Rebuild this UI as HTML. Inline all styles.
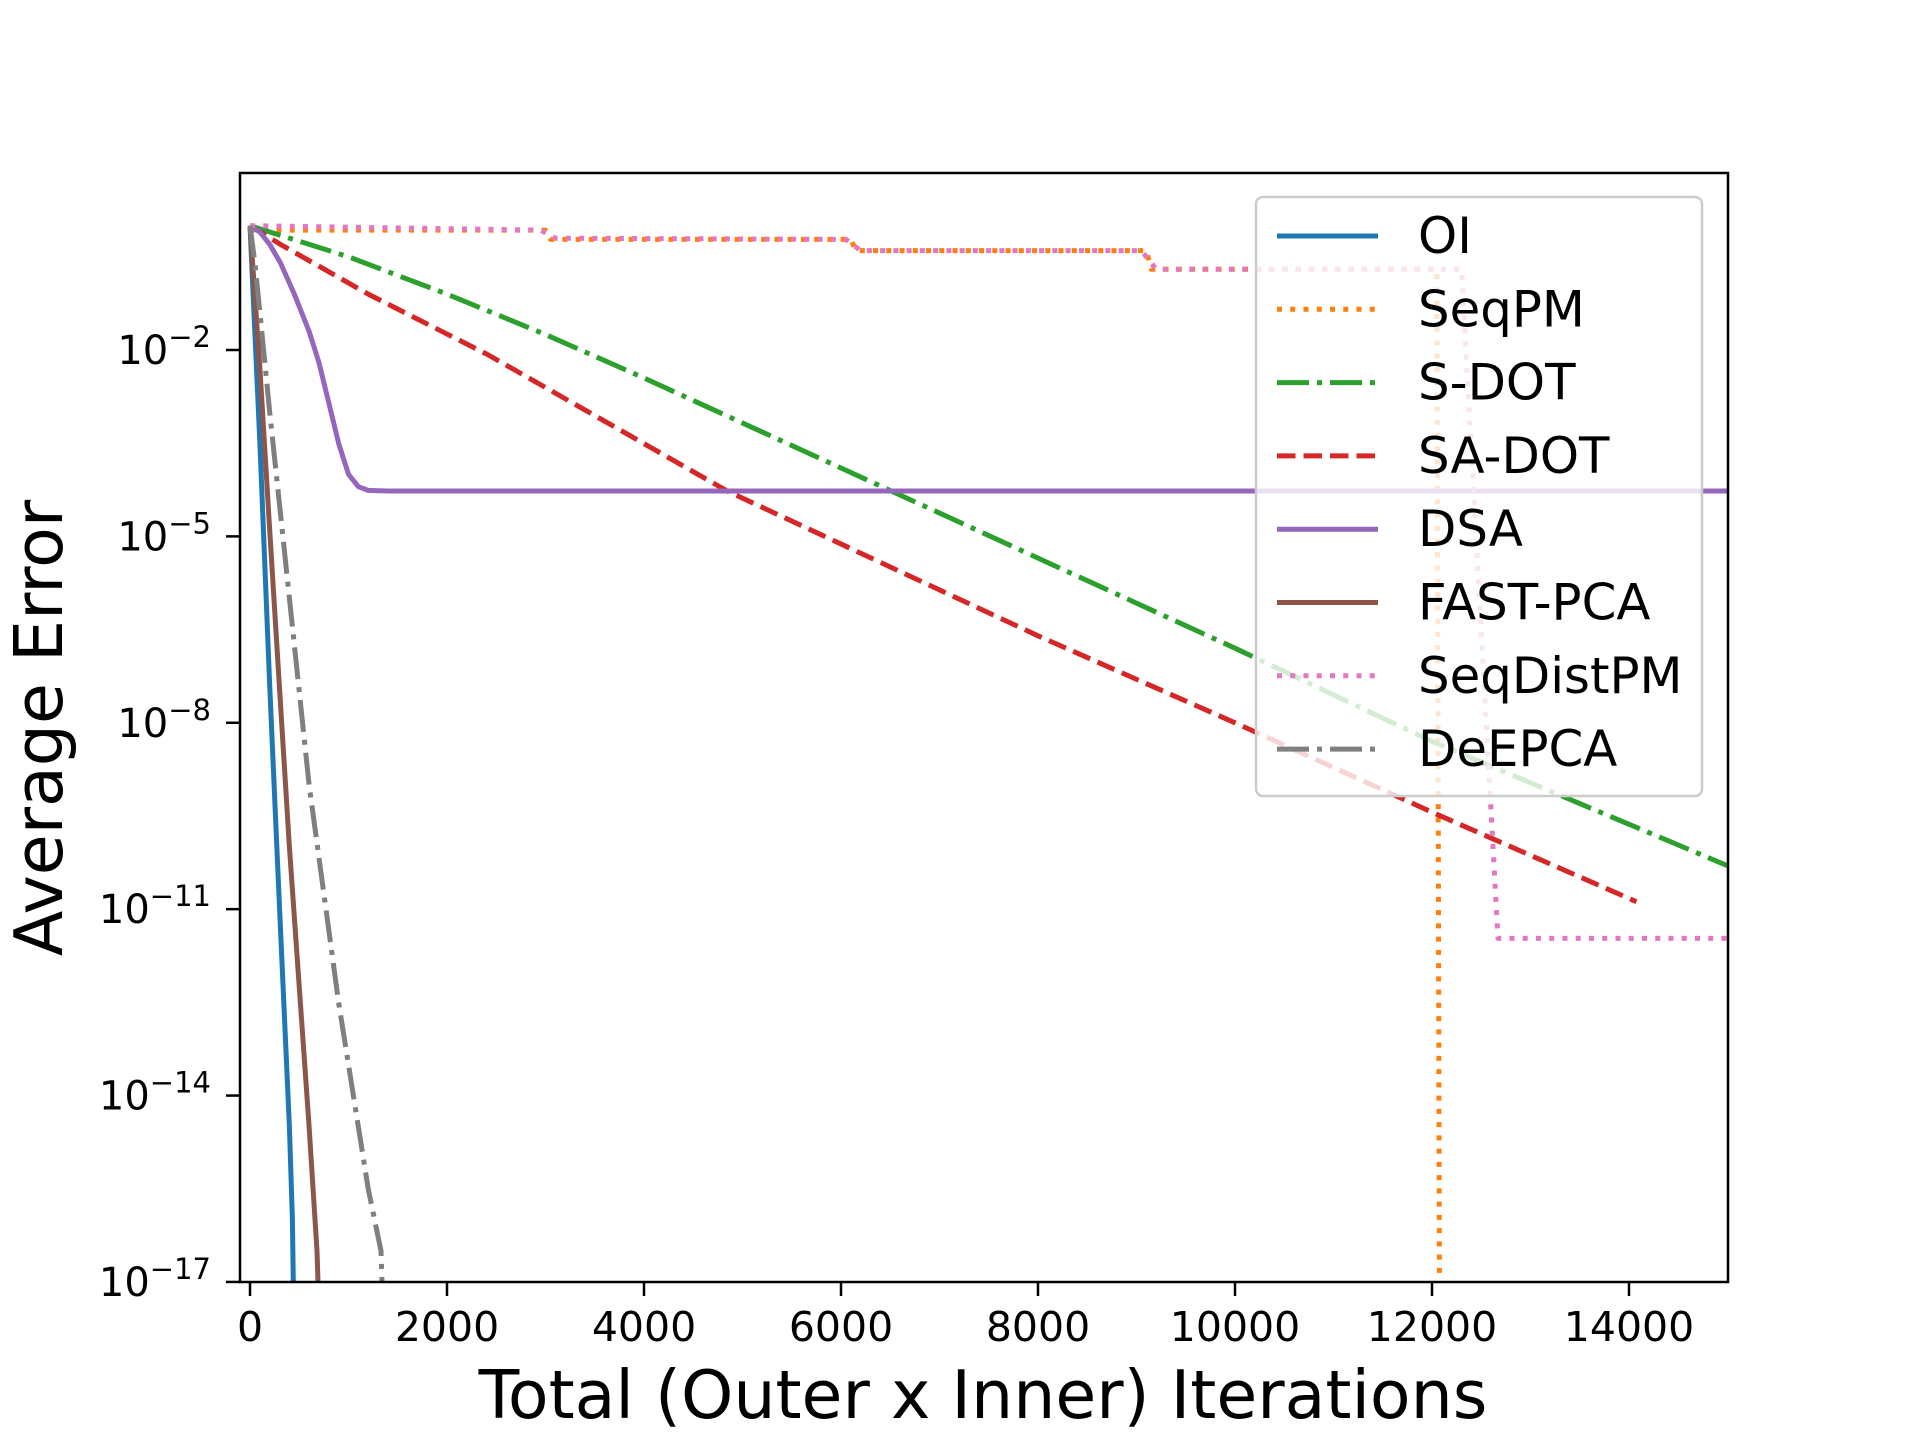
<!DOCTYPE html>
<html><head><meta charset="utf-8"><style>
html,body{margin:0;padding:0;background:#fff;}
svg{display:block;font-family:"DejaVu Sans","Liberation Sans",sans-serif;}
</style></head><body>
<svg id="chart" width="1920" height="1440" viewBox="0 0 1920 1440">
<rect x="0" y="0" width="1920" height="1440" fill="#fff"/>
<g id="plot"></g>
<g id="axes"></g>
<g id="legend"></g>
<text x="983" y="1418" font-size="66.5" text-anchor="middle">Total (Outer x Inner) Iterations</text>
<text transform="translate(62,728) rotate(-90)" font-size="66.5" text-anchor="middle">Average Error</text>
</svg>
<script>
// data: x = iterations, y = log10(error)
const oiX = [0,100,200,300,400,430,440];
const oiY = [0,-3.5,-7.4,-11,-14.5,-16,-17];
const fastX = [0,100,200,400,600,680,690];
const fastY = [0,-2.3,-4.9,-10,-14.5,-16.5,-17];
const deepX = [0,50,100,200,300,600,900,1200,1330,1340];
const deepY = [0,-0.6,-1.4,-3.0,-4.5,-9,-12.5,-15.5,-16.5,-17];
const dsaX = [0,100,200,310,450,600,700,800,900,1000,1100,1200,1400,15000];
const dsaY = [0,-0.1,-0.3,-0.6,-1.1,-1.7,-2.2,-2.85,-3.5,-4.0,-4.2,-4.26,-4.27,-4.27];
const sdotX = [0,1000,2000,3000,4000,6000,8000,10000,12000,15000];
const sdotY = [0,-0.5,-1.1,-1.75,-2.45,-3.9,-5.35,-6.8,-8.3,-10.3];
const sadotX = [0,310,1200,2420,4845,8000,10000,12000,14075];
const sadotY = [0,-0.3,-1.1,-2.08,-4.27,-6.6,-8.0,-9.44,-10.88];
const seqpmX = [0,3000,3050,6100,6150,9100,9150,12050,12075,12080];
const seqpmY = [-0.07,-0.07,-0.22,-0.22,-0.4,-0.4,-0.7,-0.7,-17,-17.5];
const sdpmX = [0,2950,3100,6050,6200,9050,9200,12300,12670,15000];
const sdpmY = [0,-0.07,-0.2,-0.22,-0.4,-0.4,-0.7,-0.7,-11.47,-11.47];
const xTicks = [0,2000,4000,6000,8000,10000,12000,14000];
const yTicks = [-2,-5,-8,-11,-14,-17];
const seriesNames = ["OI","SeqPM","S-DOT","SA-DOT","DSA","FAST-PCA","SeqDistPM","DeEPCA"];

const L=240,R=1728,T=173,B=1282;
function sx(x){return 250 + x*0.0985;}
function sy(l){return 350 + (-2 - l)*62.13;}
const NS="http://www.w3.org/2000/svg";
const lw=5;
const styles={
 "OI":{c:"#1f77b4",d:null,x:oiX,y:oiY},
 "SeqPM":{c:"#ff7f0e",d:[lw,1.65*lw],x:seqpmX,y:seqpmY},
 "S-DOT":{c:"#2ca02c",d:[6.4*lw,1.6*lw,lw,1.6*lw],x:sdotX,y:sdotY},
 "SA-DOT":{c:"#d62728",d:[3.7*lw,1.6*lw],x:sadotX,y:sadotY},
 "DSA":{c:"#9467bd",d:null,x:dsaX,y:dsaY},
 "FAST-PCA":{c:"#8c564b",d:null,x:fastX,y:fastY},
 "SeqDistPM":{c:"#e377c2",d:[lw,1.65*lw],x:sdpmX,y:sdpmY},
 "DeEPCA":{c:"#7f7f7f",d:[6.4*lw,1.6*lw,lw,1.6*lw],x:deepX,y:deepY}
};
const plot=document.getElementById('plot');
const defs=document.createElementNS(NS,'defs');
defs.innerHTML='<clipPath id="clip"><rect x="'+L+'" y="'+T+'" width="'+(R-L)+'" height="'+(B-T)+'"/></clipPath>';
document.getElementById('chart').insertBefore(defs,plot);
plot.setAttribute('clip-path','url(#clip)');
seriesNames.forEach(function(n){
 const s=styles[n];
 const p=document.createElementNS(NS,'polyline');
 p.setAttribute('points',s.x.map(function(x,i){return sx(x).toFixed(1)+','+sy(s.y[i]).toFixed(1);}).join(' '));
 p.setAttribute('fill','none');p.setAttribute('stroke',s.c);p.setAttribute('stroke-width',lw);
 p.setAttribute('stroke-linejoin','round');
 if(s.d)p.setAttribute('stroke-dasharray',s.d.join(' '));
 
 
 plot.appendChild(p);
});
const axes=document.getElementById('axes');
const frame=document.createElementNS(NS,'rect');
frame.setAttribute('x',L);frame.setAttribute('y',T);frame.setAttribute('width',R-L);frame.setAttribute('height',B-T);
frame.setAttribute('fill','none');frame.setAttribute('stroke','#000');frame.setAttribute('stroke-width','2.5');


axes.appendChild(frame);
xTicks.forEach(function(t){
 const x=sx(t);
 const ln=document.createElementNS(NS,'line');
 ln.setAttribute('x1',x);ln.setAttribute('x2',x);ln.setAttribute('y1',B);ln.setAttribute('y2',B+14);
 ln.setAttribute('stroke','#000');ln.setAttribute('stroke-width','2.5');
 
 
 axes.appendChild(ln);
 const tx=document.createElementNS(NS,'text');
 tx.setAttribute('x',x);tx.setAttribute('y',1341);tx.setAttribute('font-size','41');tx.setAttribute('text-anchor','middle');
 tx.textContent=String(t);
 
 
 axes.appendChild(tx);
});
yTicks.forEach(function(t){
 const y=sy(t);
 const ln=document.createElementNS(NS,'line');
 ln.setAttribute('x1',L-14);ln.setAttribute('x2',L);ln.setAttribute('y1',y);ln.setAttribute('y2',y);
 ln.setAttribute('stroke','#000');ln.setAttribute('stroke-width','2.5');
 
 
 axes.appendChild(ln);
 const tx=document.createElementNS(NS,'text');
 tx.setAttribute('x',211);tx.setAttribute('y',y+14);tx.setAttribute('font-size','40');tx.setAttribute('text-anchor','end');
 tx.innerHTML='10<tspan font-size="29" dy="-17">\u2212'+(-t)+'</tspan>';
 
 
 axes.appendChild(tx);
});
const lg=document.getElementById('legend');
const box=document.createElementNS(NS,'rect');
box.setAttribute('x',1256);box.setAttribute('y',197);box.setAttribute('width',446);box.setAttribute('height',599);
box.setAttribute('rx',7);box.setAttribute('fill','#fff');box.setAttribute('fill-opacity','0.8');
box.setAttribute('stroke','#ccc');box.setAttribute('stroke-width','2.5');


lg.appendChild(box);
seriesNames.forEach(function(n,i){
 const s=styles[n];const y=236+i*73.3;
 const ln=document.createElementNS(NS,'line');
 ln.setAttribute('x1',1277);ln.setAttribute('x2',1378);ln.setAttribute('y1',y);ln.setAttribute('y2',y);
 ln.setAttribute('stroke',s.c);ln.setAttribute('stroke-width',lw);
 if(s.d)ln.setAttribute('stroke-dasharray',s.d.join(' '));
 
 
 lg.appendChild(ln);
 const tx=document.createElementNS(NS,'text');
 tx.setAttribute('x',1418);tx.setAttribute('y',y+17);tx.setAttribute('font-size','49.8');
 tx.textContent=n;
 
 
 lg.appendChild(tx);
});
</script>
</body></html>
